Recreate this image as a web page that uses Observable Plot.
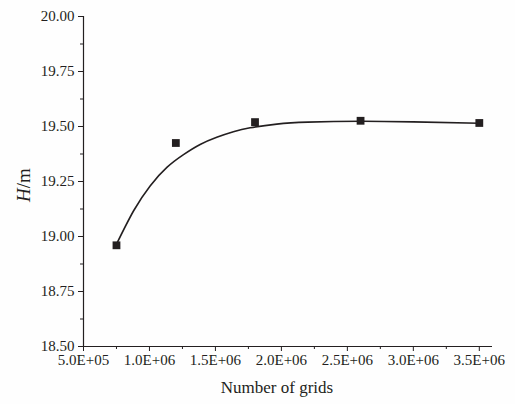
<!DOCTYPE html>
<html>
<head>
<meta charset="utf-8">
<script src="https://cdn.jsdelivr.net/npm/d3@7"></script>
<script src="https://cdn.jsdelivr.net/npm/@observablehq/plot@0.6"></script>
<style>
  html, body { margin: 0; padding: 0; background: #fefefe; }
  #chart { width: 515px; height: 404px; }
</style>
</head>
<body>
<div id="chart"></div>
<script>
// Measured points
const grids = [750000, 1200000, 1800000, 2600000, 3500000];
const heights = [18.96, 19.425, 19.52, 19.526, 19.516];

// Fitted curve
const curveGrids = [750000, 880000, 1005000, 1132000, 1258000, 1384000, 1510000, 1636000, 1763000, 1965000, 2200000, 2600000, 3000000, 3500000];
const curveHeights = [18.965, 19.117, 19.23, 19.314, 19.372, 19.418, 19.451, 19.476, 19.494, 19.511, 19.52, 19.524, 19.521, 19.515];

// Ticks
const xTicks = [500000, 1000000, 1500000, 2000000, 2500000, 3000000, 3500000];
const xTickLabels = ["5.0E+05", "1.0E+06", "1.5E+06", "2.0E+06", "2.5E+06", "3.0E+06", "3.5E+06"];
const xMinorTicks = [750000, 1250000, 1750000, 2250000, 2750000, 3250000];
const yTicks = [18.5, 18.75, 19.0, 19.25, 19.5, 19.75, 20.0];
const yTickLabels = ["18.50", "18.75", "19.00", "19.25", "19.50", "19.75", "20.00"];
const yMinorTicks = [18.625, 18.875, 19.125, 19.375, 19.625, 19.875];

const points = grids.map((g, i) => ({g, h: heights[i]}));
const curve = curveGrids.map((g, i) => ({g, h: curveHeights[i]}));
const ink = "#231f20";
const serif = "'Liberation Serif', 'Times New Roman', serif";

const chart = Plot.plot({
  width: 515,
  height: 404,
  marginLeft: 83,
  marginRight: 23,
  marginTop: 16,
  marginBottom: 58,
  style: {background: "#fefefe", color: ink},
  x: {domain: [500000, 3600000]},
  y: {domain: [18.5, 20.0]},
  marks: [
    Plot.axisX({ticks: xTicks, tickSize: 5, tickPadding: 3, tickFormat: d => xTickLabels[xTicks.indexOf(d)], label: null, stroke: ink, fill: ink}),
    Plot.axisX({ticks: xMinorTicks, tickSize: 3, tickFormat: () => "", label: null, stroke: ink}),
    Plot.axisY({ticks: yTicks, tickSize: 5, tickPadding: 4, tickFormat: d => yTickLabels[yTicks.findIndex(t => Math.abs(t - d) < 1e-9)], label: null, stroke: ink, fill: ink}),
    Plot.axisY({ticks: yMinorTicks, tickSize: 3, tickFormat: () => "", label: null, stroke: ink}),
    Plot.ruleX([500000], {stroke: ink, strokeWidth: 1.2}),
    Plot.ruleY([18.5], {stroke: ink, strokeWidth: 1.2}),
    Plot.line(curve, {x: "g", y: "h", curve: "natural", stroke: ink, strokeWidth: 1.6}),
    Plot.dot(points, {x: "g", y: "h", symbol: "square", r: 4.4, fill: ink, stroke: "none"})
  ]
});

const svg = d3.select(chart);
svg.style("font-family", serif);
svg.selectAll("text").style("font-family", serif).style("font-size", "15px");

svg.append("text")
  .attr("x", 277).attr("y", 393)
  .attr("text-anchor", "middle")
  .style("font-family", serif)
  .style("font-size", "17px")
  .attr("fill", ink)
  .text("Number of grids");
const yl = svg.append("text")
  .attr("transform", "translate(30,185) rotate(-90)")
  .attr("text-anchor", "middle")
  .style("font-family", serif)
  .style("font-size", "19px")
  .attr("fill", ink);
yl.append("tspan").attr("font-style", "italic").text("H");
yl.append("tspan").text("/m");

document.getElementById("chart").appendChild(chart);
</script>
</body>
</html>
